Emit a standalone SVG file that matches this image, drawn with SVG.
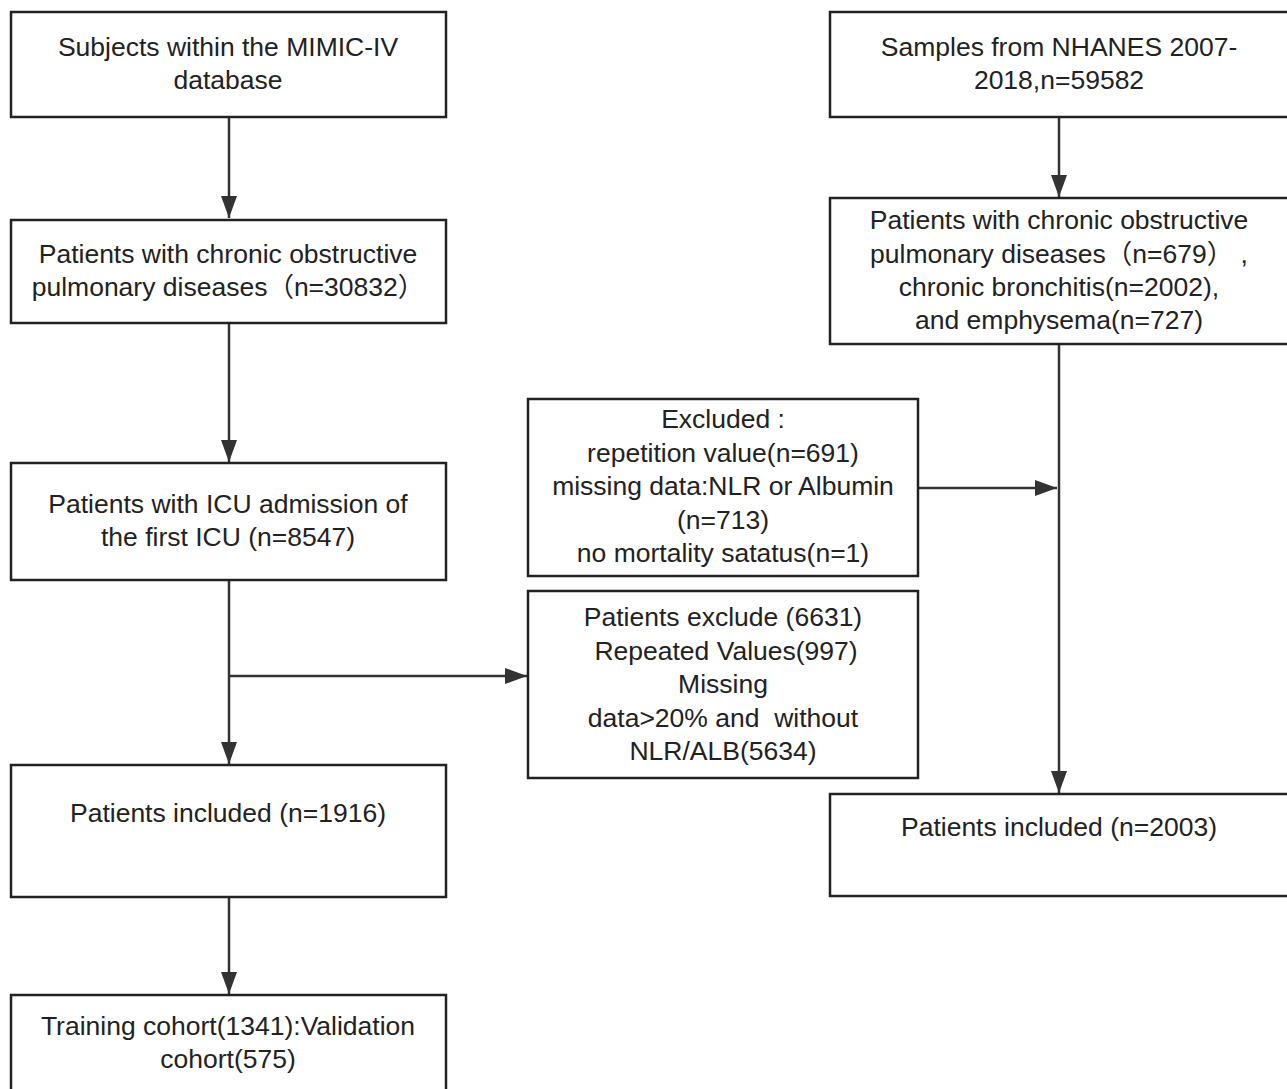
<svg xmlns="http://www.w3.org/2000/svg" width="1287" height="1089" viewBox="0 0 1287 1089">
<style>
.box{fill:#fff;stroke:#222;stroke-width:2.5}
.t{font-family:"Liberation Sans",Arial,"Noto Sans CJK SC",sans-serif;font-size:26.5px;fill:#222;text-anchor:middle}
.ln{stroke:#333;stroke-width:2.5;fill:none}
</style>
<defs>
<marker id="ah" viewBox="0 0 22 18" refX="22" refY="9" markerWidth="22" markerHeight="18" markerUnits="userSpaceOnUse" orient="auto">
<path d="M0,1 L22,9 L0,17 Z" fill="#333"/>
</marker>
</defs>
<rect width="1287" height="1089" fill="#fff"/>
<g id="connectors">
<line class="ln" x1="229" y1="117" x2="229" y2="218" marker-end="url(#ah)"/>
<line class="ln" x1="229" y1="323" x2="229" y2="462" marker-end="url(#ah)"/>
<line class="ln" x1="229" y1="580" x2="229" y2="764" marker-end="url(#ah)"/>
<line class="ln" x1="229" y1="676" x2="527" y2="676" marker-end="url(#ah)"/>
<line class="ln" x1="229" y1="897" x2="229" y2="994" marker-end="url(#ah)"/>
<line class="ln" x1="1059" y1="117" x2="1059" y2="197" marker-end="url(#ah)"/>
<line class="ln" x1="1059" y1="344" x2="1059" y2="793" marker-end="url(#ah)"/>
<line class="ln" x1="918" y1="488" x2="1057" y2="488" marker-end="url(#ah)"/>
</g>
<g id="n1"><rect class="box" x="11" y="12" width="435" height="105"/>
<text class="t" x="228" y="56">Subjects within the MIMIC-IV</text><text class="t" x="228" y="89">database</text></g>
<g id="n2"><rect class="box" x="11" y="220" width="435" height="103"/>
<text class="t" x="228" y="263">Patients with chronic obstructive</text><text class="t" x="228" y="296">pulmonary diseases（n=30832）</text></g>
<g id="n3"><rect class="box" x="11" y="463" width="435" height="117"/>
<text class="t" x="228" y="513">Patients with ICU admission of</text><text class="t" x="228" y="546">the first ICU (n=8547)</text></g>
<g id="n4"><rect class="box" x="11" y="765" width="435" height="132"/>
<text class="t" x="228" y="822">Patients included (n=1916)</text></g>
<g id="n5"><rect class="box" x="11" y="995" width="435" height="110"/>
<text class="t" x="228" y="1035">Training cohort(1341):Validation</text><text class="t" x="228" y="1068">cohort(575)</text></g>
<g id="r1"><rect class="box" x="830" y="12" width="470" height="105"/>
<text class="t" x="1059" y="56">Samples from NHANES 2007-</text><text class="t" x="1059" y="89">2018,n=59582</text></g>
<g id="r2"><rect class="box" x="830" y="198" width="470" height="146"/>
<text class="t" x="1059" y="229">Patients with chronic obstructive</text>
<text class="t" x="1059" y="263">pulmonary diseases（n=679） ,</text>
<text class="t" x="1059" y="296">chronic bronchitis(n=2002),</text>
<text class="t" x="1059" y="329">and emphysema(n=727)</text></g>
<g id="r3"><rect class="box" x="830" y="794" width="470" height="102"/>
<text class="t" x="1059" y="836">Patients included (n=2003)</text></g>
<g id="ex1"><rect class="box" x="528" y="399" width="390" height="177"/>
<text class="t" x="723" y="428">Excluded :</text>
<text class="t" x="723" y="462">repetition value(n=691)</text>
<text class="t" x="723" y="495">missing data:NLR or Albumin</text>
<text class="t" x="723" y="529">(n=713)</text>
<text class="t" x="723" y="562">no mortality satatus(n=1)</text></g>
<g id="ex2"><rect class="box" x="528" y="591" width="390" height="187"/>
<text class="t" x="723" y="626">Patients exclude (6631)</text>
<text class="t" x="726" y="660">Repeated Values(997)</text>
<text class="t" x="723" y="693">Missing</text>
<text class="t" x="723" y="727">data&gt;20% and&#160; without</text>
<text class="t" x="723" y="760">NLR/ALB(5634)</text></g>
</svg>
